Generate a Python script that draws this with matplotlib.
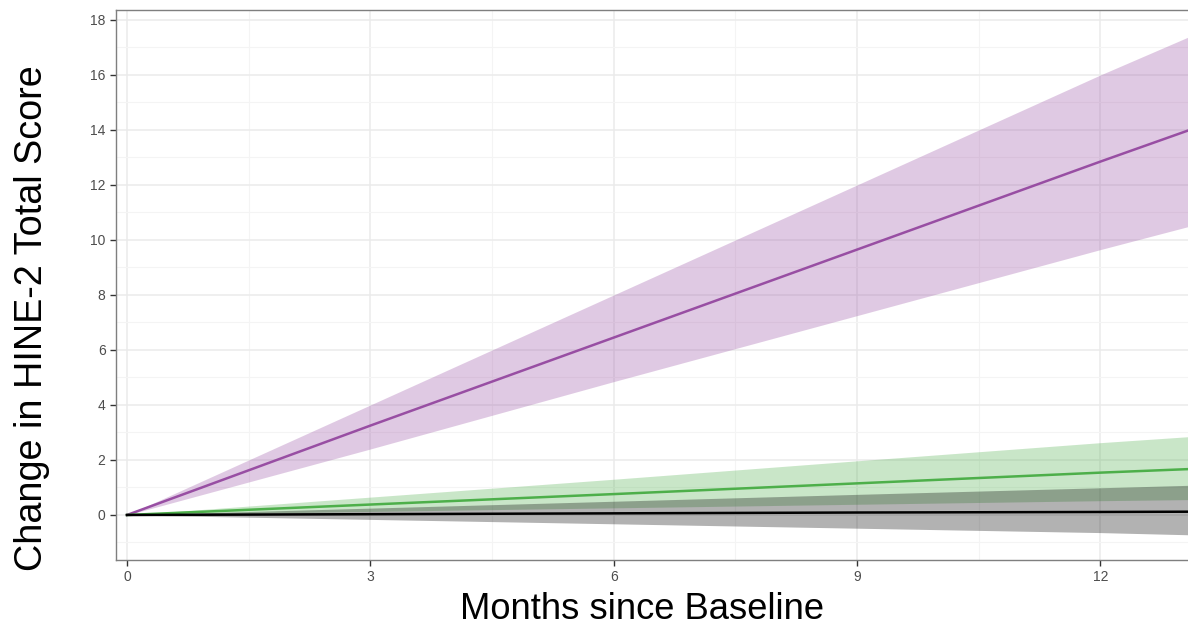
import matplotlib
matplotlib.use("Agg")
import matplotlib.pyplot as plt
from matplotlib.ticker import MultipleLocator

plt.rcParams['font.family'] = ['Liberation Sans', 'DejaVu Sans']

months = [0, 3, 6, 9, 12, 13.1]

# purple group
purple_mean = [0, 3.25, 6.45, 9.65, 12.85, 14.0]
purple_hi = [0, 4.0, 8.0, 12.0, 16.0, 17.4]
purple_lo = [0, 2.4, 4.85, 7.25, 9.65, 10.5]

# green group
green_mean = [0, 0.38, 0.76, 1.15, 1.54, 1.67]
green_hi = [0, 0.65, 1.3, 1.97, 2.63, 2.85]
green_lo = [0, 0.13, 0.26, 0.39, 0.52, 0.56]

# black group
black_mean = [0, 0.03, 0.06, 0.09, 0.11, 0.12]
black_hi = [0, 0.25, 0.5, 0.75, 0.99, 1.08]
black_lo = [0, -0.16, -0.32, -0.48, -0.64, -0.72]

fig = plt.figure(figsize=(11.88, 6.28), dpi=100)
ax = fig.add_axes([0.0976, 0.1083, 0.9024, 0.8757])

groups = [
    (purple_mean, purple_lo, purple_hi, '#984EA3'),
    (green_mean, green_lo, green_hi, '#4DAF4A'),
    (black_mean, black_lo, black_hi, '#000000'),
]
for mean, lo, hi, col in groups:
    ax.fill_between(months, lo, hi, color=col, alpha=0.3, linewidth=0, zorder=2)
for mean, lo, hi, col in groups:
    ax.plot(months, mean, color=col, linewidth=1.8, zorder=3)

ax.set_xlim(-0.136, 13.08)
ax.set_ylim(-1.636, 18.36)
ax.xaxis.set_major_locator(MultipleLocator(3))
ax.xaxis.set_minor_locator(MultipleLocator(1.5))
ax.yaxis.set_major_locator(MultipleLocator(2))
ax.yaxis.set_minor_locator(MultipleLocator(1))

ax.grid(which='major', color='#EBEBEB', linewidth=1.1, zorder=0)
ax.grid(which='minor', color='#F4F4F4', linewidth=0.8, zorder=0)
ax.set_axisbelow(True)

for s in ['left', 'top', 'bottom']:
    ax.spines[s].set_color('#7F7F7F')
    ax.spines[s].set_linewidth(1.0)
ax.spines['right'].set_visible(False)

ax.tick_params(which='major', length=4, width=1, color='#333333',
               labelcolor='#4D4D4D', labelsize=10)
ax.tick_params(which='minor', length=0)

ax.set_xlabel('Months since Baseline', fontsize=26.2, va='baseline')
ax.xaxis.set_label_coords(0.491, -0.1075)
ax.set_ylabel('Change in HINE-2 Total Score', fontsize=27.2, va='center')
ax.yaxis.set_label_coords(-0.078, 0.44)

fig.savefig('out.png', dpi=100)
